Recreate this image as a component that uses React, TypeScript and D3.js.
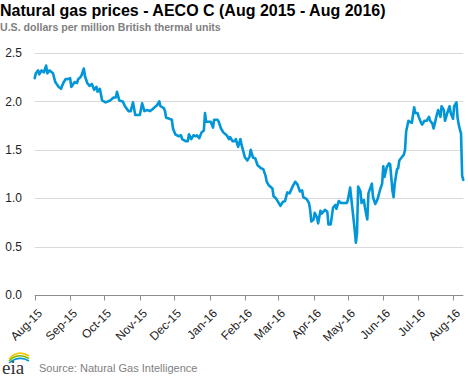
import React from "react";
import * as d3 from "d3";

const dates: string[] = [
  "2015-08-01","2015-08-02","2015-08-04","2015-08-05","2015-08-07","2015-08-09","2015-08-11","2015-08-12","2015-08-14","2015-08-17",
  "2015-08-19","2015-08-22","2015-08-24","2015-08-26","2015-08-28","2015-08-30","2015-09-01","2015-09-02","2015-09-05","2015-09-07",
  "2015-09-08","2015-09-10","2015-09-11","2015-09-13","2015-09-14","2015-09-16","2015-09-18","2015-09-20","2015-09-22","2015-09-24",
  "2015-09-25","2015-09-27","2015-09-29","2015-10-02","2015-10-06","2015-10-09","2015-10-11","2015-10-12","2015-10-14","2015-10-17",
  "2015-10-19","2015-10-22","2015-10-24","2015-10-26","2015-10-28","2015-10-30","2015-11-01","2015-11-03","2015-11-05","2015-11-07",
  "2015-11-10","2015-11-12","2015-11-15","2015-11-16","2015-11-18","2015-11-19","2015-11-22","2015-11-23","2015-11-24","2015-11-27",
  "2015-11-29","2015-11-30","2015-12-02","2015-12-05","2015-12-07","2015-12-08","2015-12-11","2015-12-13","2015-12-14","2015-12-16",
  "2015-12-18","2015-12-20","2015-12-21","2015-12-23","2015-12-25","2015-12-27","2015-12-28","2015-12-29","2015-12-31","2016-01-02",
  "2016-01-04","2016-01-05","2016-01-08","2016-01-09","2016-01-11","2016-01-13","2016-01-16","2016-01-18","2016-01-19","2016-01-21",
  "2016-01-23","2016-01-24","2016-01-26","2016-01-28","2016-01-29","2016-02-01","2016-02-03","2016-02-05","2016-02-06","2016-02-08",
  "2016-02-10","2016-02-12","2016-02-15","2016-02-17","2016-02-19","2016-02-20","2016-02-22","2016-02-25","2016-02-26","2016-02-28",
  "2016-02-29","2016-03-03","2016-03-05","2016-03-07","2016-03-09","2016-03-11","2016-03-14","2016-03-16","2016-03-18","2016-03-20",
  "2016-03-22","2016-03-23","2016-03-26","2016-03-28","2016-03-29","2016-03-30","2016-04-01","2016-04-02","2016-04-04","2016-04-05",
  "2016-04-07","2016-04-08","2016-04-11","2016-04-13","2016-04-14","2016-04-16","2016-04-18","2016-04-20","2016-04-21","2016-04-23",
  "2016-04-25","2016-04-27","2016-04-30","2016-05-01","2016-05-03","2016-05-05","2016-05-07","2016-05-08","2016-05-09","2016-05-10",
  "2016-05-12","2016-05-13","2016-05-15","2016-05-16","2016-05-18","2016-05-19","2016-05-22","2016-05-23","2016-05-25","2016-05-27",
  "2016-05-29","2016-05-31","2016-06-01","2016-06-02","2016-06-04","2016-06-06","2016-06-07","2016-06-09","2016-06-10","2016-06-11",
  "2016-06-13","2016-06-14","2016-06-15","2016-06-17","2016-06-19","2016-06-20","2016-06-21","2016-06-23","2016-06-24","2016-06-26",
  "2016-06-28","2016-06-29","2016-07-01","2016-07-02","2016-07-04","2016-07-05","2016-07-07","2016-07-09","2016-07-11","2016-07-12",
  "2016-07-14","2016-07-15","2016-07-16","2016-07-18","2016-07-19","2016-07-21","2016-07-22","2016-07-24","2016-07-25","2016-07-27",
  "2016-07-29","2016-07-30","2016-08-01","2016-08-02","2016-08-04","2016-08-05","2016-08-06","2016-08-07","2016-08-08","2016-08-09",
  "2016-08-10"
];

const prices: number[] = [
  2.24,2.29,2.32,2.28,2.32,2.30,2.37,2.29,2.32,2.29,
  2.20,2.15,2.13,2.19,2.23,2.23,2.24,2.15,2.20,2.19,
  2.23,2.25,2.27,2.34,2.26,2.19,2.16,2.18,2.12,2.15,
  2.10,2.13,2.01,1.99,2.01,2.04,2.04,2.10,2.01,2.00,
  1.95,1.90,1.90,1.99,1.86,1.86,1.86,1.98,1.90,1.91,
  1.90,1.92,1.95,1.96,2.00,1.95,1.93,1.90,1.83,1.82,
  1.81,1.72,1.66,1.64,1.65,1.61,1.59,1.59,1.66,1.61,
  1.65,1.64,1.65,1.62,1.68,1.70,1.88,1.79,1.79,1.79,
  1.73,1.81,1.81,1.79,1.72,1.68,1.65,1.61,1.63,1.59,
  1.59,1.61,1.53,1.61,1.55,1.42,1.39,1.43,1.50,1.42,
  1.41,1.34,1.31,1.30,1.23,1.17,1.13,1.10,1.02,1.00,
  0.98,0.92,0.96,0.97,1.06,1.05,1.13,1.17,1.14,1.07,
  1.08,1.01,0.99,0.95,0.88,0.76,0.78,0.85,0.80,0.74,
  0.87,0.84,0.88,0.86,0.73,0.73,0.90,0.93,0.89,0.97,
  0.95,0.95,0.95,0.98,1.11,0.89,0.67,0.54,0.64,1.12,
  1.07,0.95,0.98,0.90,0.78,1.05,1.15,1.01,0.94,0.99,
  1.08,1.15,1.33,1.22,1.32,1.36,1.35,1.08,1.01,1.15,
  1.30,1.31,1.39,1.42,1.45,1.50,1.69,1.80,1.79,1.78,
  1.94,1.88,1.88,1.84,1.78,1.76,1.80,1.80,1.84,1.80,
  1.77,1.72,1.77,1.87,1.91,1.84,1.95,1.91,1.80,1.88,
  1.95,1.88,1.82,1.95,1.99,1.83,1.76,1.71,1.67,1.23,
  1.19
];

const yTicks: number[] = [0, 0.5, 1.0, 1.5, 2.0, 2.5];
const monthTicks: string[] = [
  "2015-08-01","2015-09-01","2015-10-01","2015-11-01","2015-12-01","2016-01-01",
  "2016-02-01","2016-03-01","2016-04-01","2016-05-01","2016-06-01","2016-07-01","2016-08-01"
];
const monthLabels: string[] = [
  "Aug-15","Sep-15","Oct-15","Nov-15","Dec-15","Jan-16","Feb-16","Mar-16","Apr-16","May-16","Jun-16","Jul-16","Aug-16"
];

const titleText = "Natural gas prices - AECO C (Aug 2015 - Aug 2016)";
const subtitleText = "U.S. dollars per million British thermal units";
const sourceText = "Source: Natural Gas Intelligence";

const W = 468;
const H = 378;
const FONT = "'Liberation Sans', Arial, sans-serif";

export default function App() {
  const parse = d3.utcParse("%Y-%m-%d");
  const data = dates.map((d, i) => ({ date: parse(d) as Date, value: prices[i] }));

  const x = d3
    .scaleUtc()
    .domain([parse("2015-08-01") as Date, parse("2016-08-10") as Date])
    .range([34.7, 463.3]);
  const y = d3.scaleLinear().domain([0, 2.5]).range([295, 53]);

  const line = d3
    .line<{ date: Date; value: number }>()
    .x((d) => x(d.date))
    .y((d) => y(d.value))
    .curve(d3.curveLinear);

  return (
    <div style={{ position: "fixed", left: 0, top: 0, margin: 0 }}>
      <svg width={W} height={H} style={{ display: "block", background: "#fff" }}>
        <text x={0} y={15.5} fontFamily={FONT} fontWeight="bold" fontSize={16} fill="#000">
          {titleText}
        </text>
        <text x={0} y={30.5} fontFamily={FONT} fontWeight="bold" fontSize={10.6} fill="#7f7f7f">
          {subtitleText}
        </text>

        {yTicks.map((t) =>
          t === 0 ? null : (
            <line key={"g" + t} x1={34.7} x2={463.3} y1={Math.round(y(t)) + 0.5} y2={Math.round(y(t)) + 0.5} stroke="#d9d9d9" strokeWidth={1} />
          )
        )}
        {yTicks.map((t) => (
          <text key={"yl" + t} x={22} y={y(t)} dy="0.35em" textAnchor="end" fontFamily={FONT} fontSize={12} fill="#222">
            {d3.format(".1f")(t)}
          </text>
        ))}

        <line x1={34.7} x2={463.3} y1={295.5} y2={295.5} stroke="#8c8c8c" strokeWidth={1} />
        {monthTicks.map((m, i) => {
          const xx = Math.round(x(parse(m) as Date)) + 0.5;
          return (
            <g key={m}>
              <line x1={xx} x2={xx} y1={295.5} y2={300.5} stroke="#8c8c8c" strokeWidth={1} />
              <text
                transform={`translate(${xx + 1.5},${308}) rotate(-45)`}
                textAnchor="end"
                dy="0.7em"
                fontFamily={FONT}
                fontSize={12}
                fill="#222"
              >
                {monthLabels[i]}
              </text>
            </g>
          );
        })}

        <path d={line(data) || ""} fill="none" stroke="#0096d7" strokeWidth={2.6} strokeLinejoin="round" strokeLinecap="round" />

        <g>
          <path d="M 9 359 Q 18 349 29 356" fill="none" stroke="#f2c500" strokeWidth={1.6} />
          <path d="M 9 361 Q 18 352 29 358.5" fill="none" stroke="#7ab800" strokeWidth={1.6} />
          <path d="M 9 363 Q 19 355 29 361" fill="none" stroke="#0096d7" strokeWidth={1.6} />
          <text x={2} y={374} fontFamily="'Liberation Serif', 'DejaVu Serif', serif" fontSize={19} fill="#333">
            eia
          </text>
        </g>
        <text x={39} y={372} fontFamily={FONT} fontSize={11} fill="#808080">
          {sourceText}
        </text>
      </svg>
    </div>
  );
}
